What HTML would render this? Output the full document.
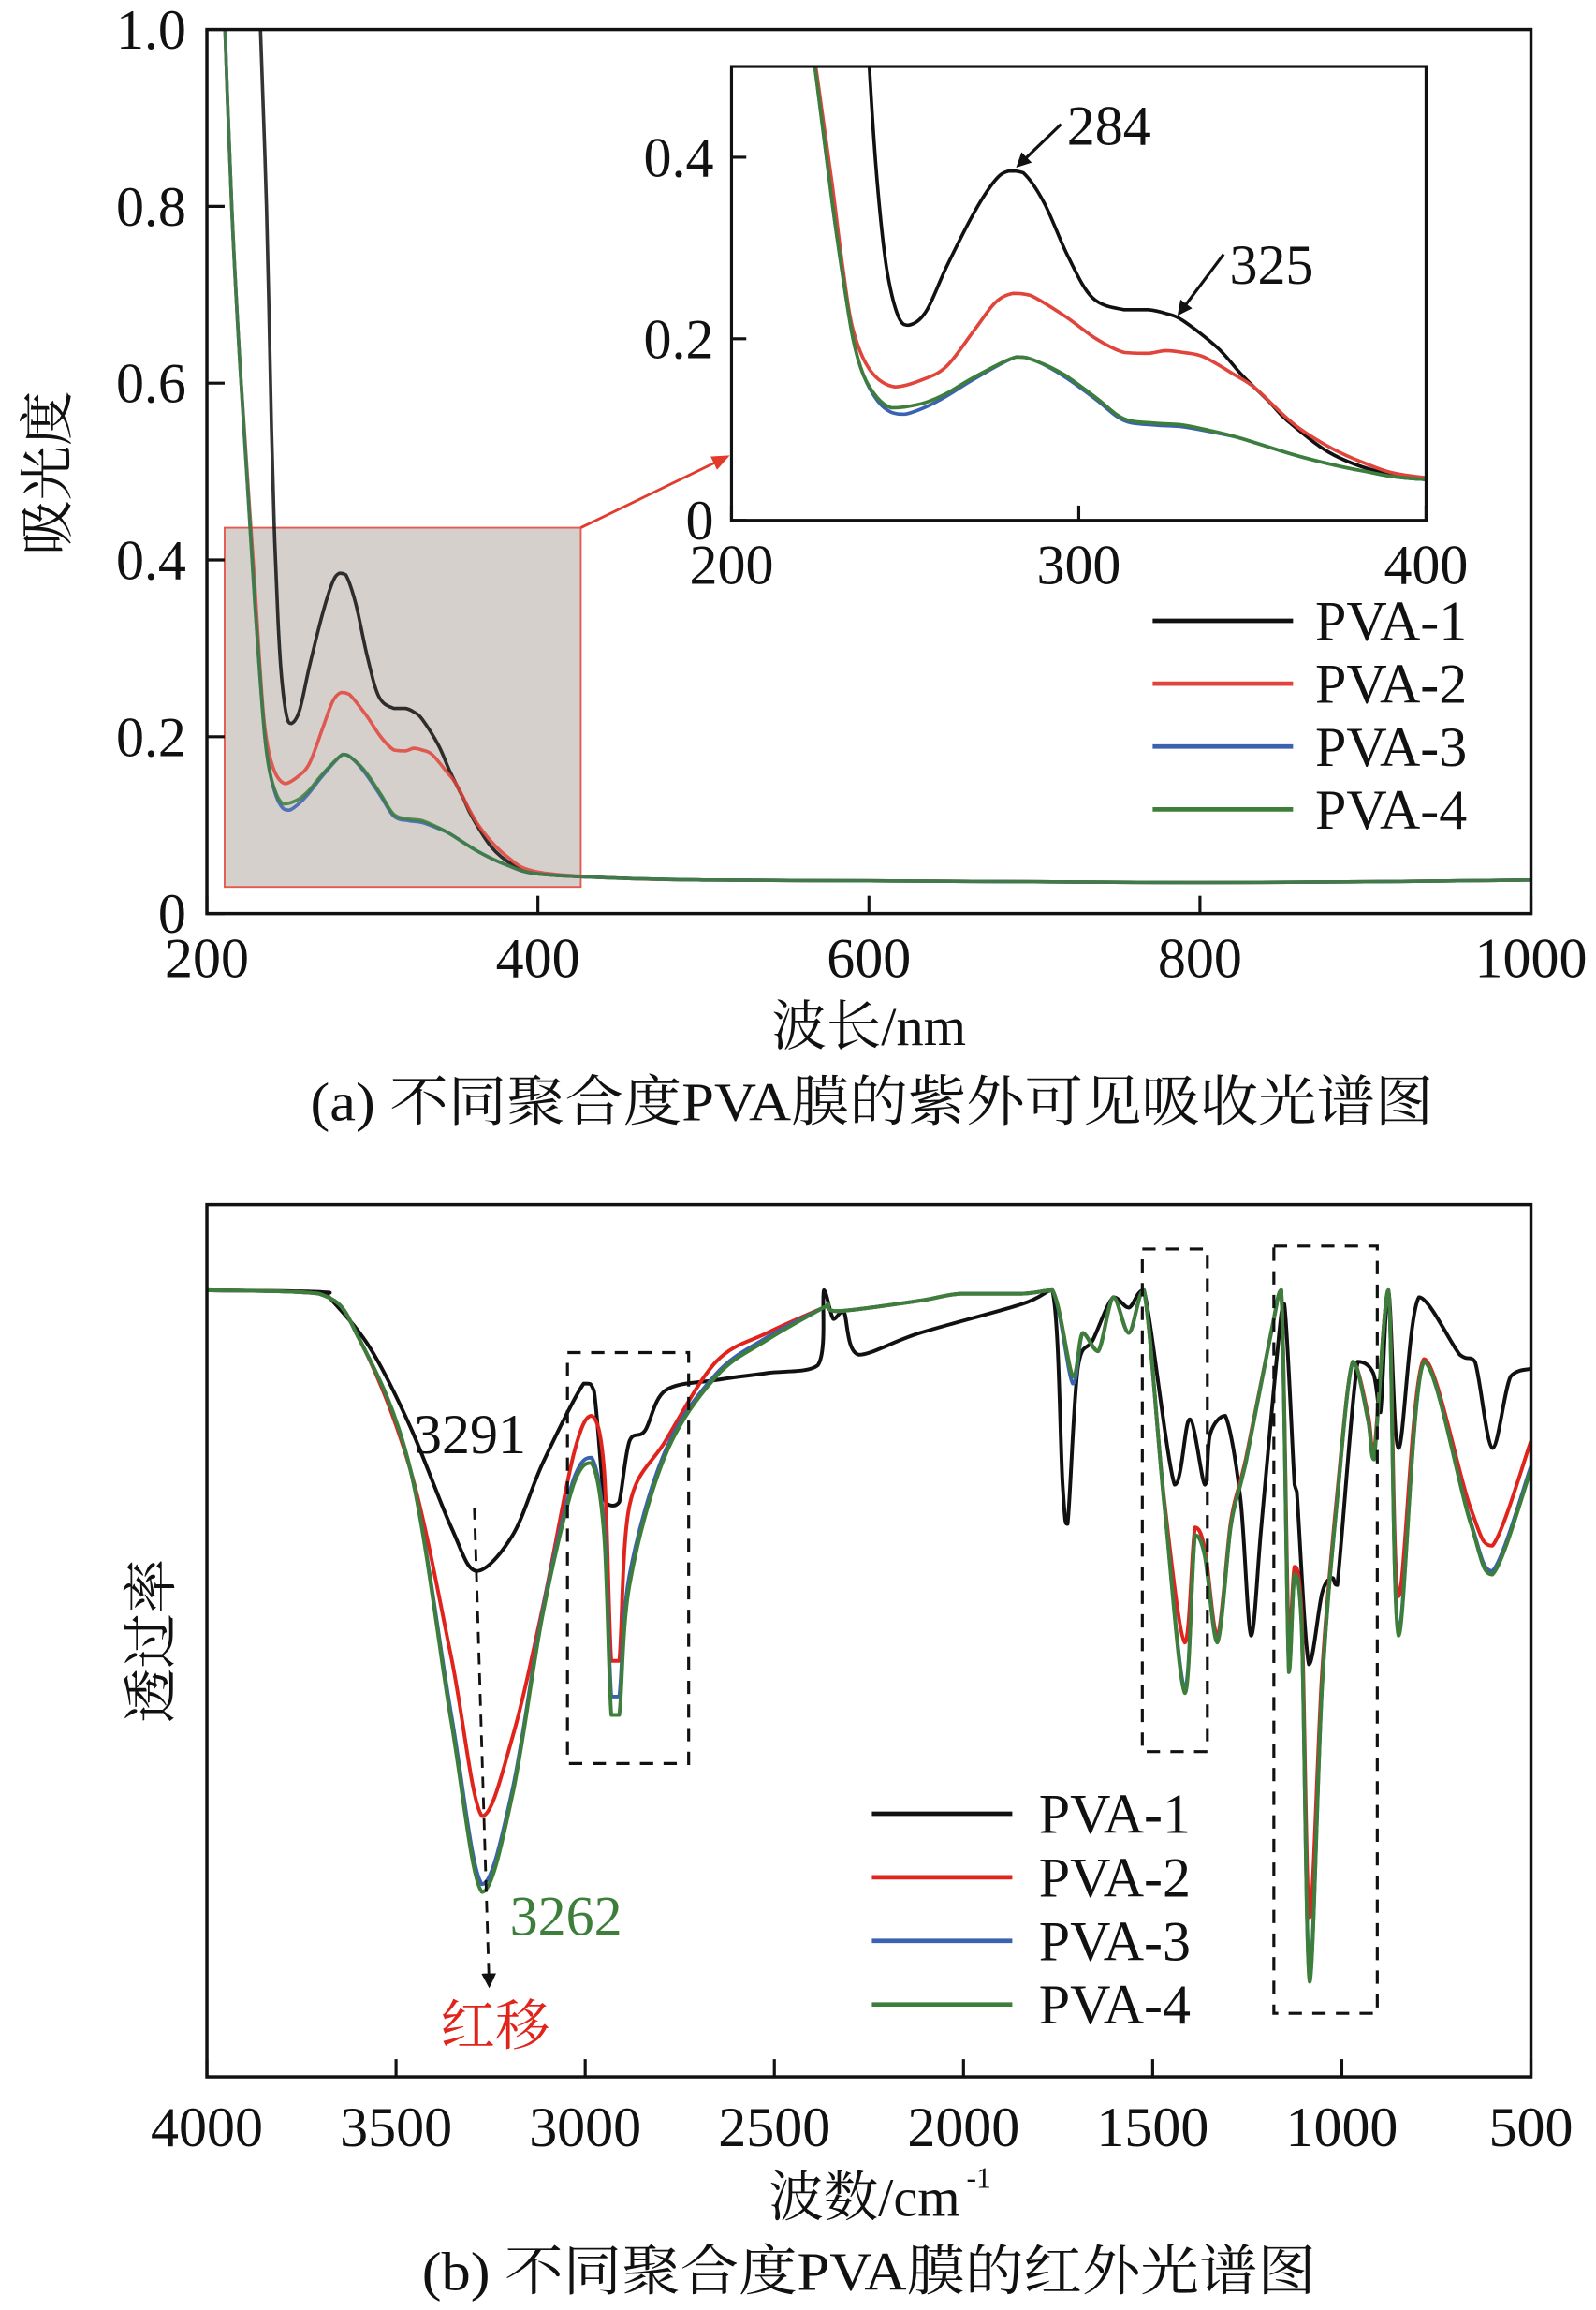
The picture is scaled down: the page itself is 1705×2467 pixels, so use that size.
<!DOCTYPE html>
<html><head><meta charset="utf-8"><style>
html,body{margin:0;padding:0;background:#fff}
svg{display:block}
text{font-family:"Liberation Serif","Noto Serif CJK SC",serif;fill:#111}
</style></head><body>
<svg id="fig" xmlns="http://www.w3.org/2000/svg" width="1705" height="2467" viewBox="0 0 1080 1562.7">
<defs>
<clipPath id="clipA"><rect x="140" y="20" width="896" height="598"/></clipPath>
<clipPath id="clipIn"><rect x="495" y="45" width="470" height="307"/></clipPath>
<clipPath id="clipB"><rect x="140" y="815" width="896" height="590"/></clipPath>
<marker id="arrB" markerWidth="10" markerHeight="10" refX="8" refY="5" orient="auto" markerUnits="userSpaceOnUse"><path d="M0,0 L10,5 L0,10 Z" fill="#111"/></marker>
<marker id="arrR" markerWidth="12" markerHeight="10" refX="10" refY="5" orient="auto" markerUnits="userSpaceOnUse"><path d="M0,0 L12,5 L0,10 Z" fill="#e23b2e"/></marker>
</defs>
<g id="gA"></g>
<g id="gB"></g>
</svg>
<script>
// ---------- UV-Vis data ----------
const uvSeriesNames = ["PVA-1","PVA-2","PVA-3","PVA-4"];
const uvColors = ["#111111","#e0443a","#3a62b0","#3d7f3a"];
const uvWl1 = [231,232,236,239,241,243,245,248,251,256,262,270,276,280,284,290,297,304,313,320,325,330,340,347,355,360,372,385,400,450,500,600,700,800,900,1000];
const uvAbs1 = [1.1,1.02,0.8,0.55,0.42,0.33,0.27,0.225,0.215,0.23,0.28,0.34,0.375,0.385,0.383,0.35,0.29,0.245,0.232,0.232,0.228,0.22,0.19,0.16,0.13,0.11,0.075,0.055,0.045,0.04,0.038,0.037,0.036,0.035,0.036,0.038];
const uvWl2 = [208,210,215,220,225,229,232,235,240,247,255,262,270,276,281,286,296,305,313,320,325,330,336,345,351,364,381,400,450,500,600,700,800,900,1000];
const uvAbs2 = [1.2,1.05,0.8,0.62,0.48,0.37,0.28,0.21,0.165,0.147,0.155,0.17,0.21,0.24,0.25,0.248,0.225,0.2,0.185,0.184,0.187,0.185,0.18,0.16,0.145,0.1,0.065,0.047,0.04,0.038,0.037,0.036,0.035,0.036,0.038];
const uvWl3 = [208,210,215,220,225,229,232,235,238,242,246,250,256,262,270,282,288,296,305,313,322,330,340,347,364,381,400,450,500,600,700,800,900,1000];
const uvAbs3 = [1.2,1.05,0.8,0.62,0.47,0.35,0.27,0.2,0.16,0.132,0.119,0.117,0.125,0.137,0.156,0.18,0.175,0.158,0.133,0.11,0.105,0.103,0.096,0.09,0.07,0.055,0.045,0.04,0.038,0.037,0.036,0.035,0.036,0.038];
const uvWl4 = [208,210,215,220,225,229,232,235,238,242,246,250,256,262,270,282,288,296,305,313,322,330,340,347,364,381,400,450,500,600,700,800,900,1000];
const uvAbs4 = [1.2,1.05,0.8,0.62,0.47,0.35,0.27,0.2,0.16,0.135,0.124,0.125,0.13,0.14,0.158,0.18,0.175,0.16,0.135,0.112,0.107,0.105,0.097,0.09,0.07,0.055,0.045,0.04,0.038,0.037,0.036,0.035,0.036,0.038];
const uvXTicks = [200,400,600,800,1000];
const uvYTicks = [0,0.2,0.4,0.6,0.8,1.0];
const uvYTickLabels = ["0","0.2","0.4","0.6","0.8","1.0"];
const insetXTicks = [200,300,400];
const insetYTicks = [0,0.2,0.4];
const insetYTickLabels = ["0","0.2","0.4"];

// ---------- FTIR data ----------
const irSeriesNames = ["PVA-1","PVA-2","PVA-3","PVA-4"];
const irColors = ["#111111","#e0241c","#3a62b0","#3d7f3a"];
const irWn1 = [4000,3700,3677,3569,3462,3354,3287,3192,3112,3004,2977,2950,2929,2910,2883,2842,2788,2654,2519,2385,2369,2344,2317,2277,2115,1846,1765,1738,1725,1698,1658,1604,1563,1523,1442,1402,1362,1348,1308,1268,1240,1213,1173,1152,1125,1119,1087,1052,1025,1012,958,917,898,877,850,796,688,648,602,554,500];
const irT1 = [90.2,90.0,89.4,83.6,74.5,63.0,58.0,62.1,70.4,79.5,78.7,66.3,65.5,65.9,72.9,74.1,78.7,79.9,80.7,81.6,90.2,86.9,87.8,82.8,85.3,88.6,90.2,67.9,63.4,81.2,84.5,89.4,88.2,90.2,67.9,75.4,67.9,73.7,75.8,66.3,50.6,63.0,82.0,88.6,67.9,67.1,47.3,55.5,57.2,56.4,82.0,80.7,76.2,90.2,72.1,89.4,82.8,82.0,72.1,80.3,81.2];
const irWnG = [4000,3704,3596,3462,3354,3273,3192,3112,3031,2983,2950,2931,2910,2883,2788,2654,2519,2371,2358,2331,2115,2008,1846,1765,1711,1685,1644,1604,1563,1523,1469,1415,1388,1362,1329,1294,1268,1254,1187,1160,1140,1125,1106,1085,1052,1012,971,931,915,877,850,783,662,602,500];
const irT2 = [90.2,89.8,84.5,69.6,48.1,29.9,39.0,53.9,71.3,75.8,69.6,47.7,47.7,65.5,72.9,82.0,85.3,88.2,88.6,87.8,89.0,89.8,89.8,90.2,80.3,85.3,83.2,89.4,85.3,90.2,66.0,49.8,63.0,60.5,50.6,63.5,68.3,70.8,85.3,90.2,49.8,58.5,53.0,18.3,46.5,67.0,82.0,76.0,71.5,90.2,55.1,82.3,65.5,60.9,72.9];
const irT3 = [90.2,89.8,84.5,69.6,41.5,22.1,33.0,53.5,68.5,71.0,63.0,43.6,43.6,57.5,71.8,80.6,84.8,88.2,88.6,87.8,89.0,89.8,89.8,90.2,79.5,85.3,83.2,89.4,85.3,90.2,65.5,44.5,62.1,59.7,50.0,63.0,67.9,70.4,85.3,90.2,46.8,57.6,51.6,11.2,45.0,66.3,82.0,75.4,70.8,90.2,51.0,82.0,64.0,58.0,70.0];
const irT4 = [90.2,89.8,84.5,69.6,40.7,21.2,32.4,53.1,67.9,70.4,62.1,41.5,41.5,56.4,71.3,80.3,84.5,88.2,88.6,87.8,89.0,89.8,89.8,90.2,80.3,85.3,83.2,89.4,85.3,90.2,65.5,44.0,62.1,59.7,49.8,63.0,67.9,70.4,85.3,90.2,46.4,57.6,51.4,10.9,44.8,66.3,82.0,75.4,70.8,90.2,50.6,82.0,63.8,57.6,69.6];
const irXTicks = [4000,3500,3000,2500,2000,1500,1000,500];

const NS = "http://www.w3.org/2000/svg";
function mk(tag, attrs, parent, txt){
  const e = document.createElementNS(NS, tag);
  for (const k in attrs) e.setAttribute(k, attrs[k]);
  if (txt !== undefined) e.textContent = txt;
  parent.appendChild(e);
  return e;
}
// smooth path through points (Catmull-Rom with clamped control y)
function smooth(pts){
  let d = 'M'+pts[0][0].toFixed(2)+','+pts[0][1].toFixed(2);
  for (let i=0;i<pts.length-1;i++){
    const p0=pts[Math.max(0,i-1)], p1=pts[i], p2=pts[i+1], p3=pts[Math.min(pts.length-1,i+2)];
    const lo=Math.min(p1[1],p2[1]), hi=Math.max(p1[1],p2[1]);
    const c1x=p1[0]+(p2[0]-p0[0])/6, c1y=Math.min(hi,Math.max(lo,p1[1]+(p2[1]-p0[1])/6));
    const c2x=p2[0]-(p3[0]-p1[0])/6, c2y=Math.min(hi,Math.max(lo,p2[1]-(p3[1]-p1[1])/6));
    d+=' C'+c1x.toFixed(2)+','+c1y.toFixed(2)+' '+c2x.toFixed(2)+','+c2y.toFixed(2)+' '+p2[0].toFixed(2)+','+p2[1].toFixed(2);
  }
  return d;
}

// ===== Chart A =====
const gA = document.getElementById('gA');
const ax = v => 140 + (v-200)/800*896;
const ay = v => 618 - v/1.0*598;
const ix = v => 495 + (v-200)/200*470;
const iy = v => 352 - v/0.5*307;

let zr = mk('rect',{x:152,y:357,width:241,height:243,fill:'#d6d0cc',stroke:'#e35a50','stroke-width':1.2},gA);


let zarrow = mk('line',{x1:393,y1:357,x2:492,y2:309,stroke:'#e23b2e','stroke-width':1.8,'marker-end':'url(#arrR)'},gA);



const uvWls=[uvWl1,uvWl2,uvWl3,uvWl4], uvAbss=[uvAbs1,uvAbs2,uvAbs3,uvAbs4];
const mainLines = mk('g',{'clip-path':'url(#clipA)'},gA);
for (let s=0;s<4;s++){
  const d = smooth(uvWls[s].map((w,i)=>[ax(w),ay(uvAbss[s][i])]));
  const p = mk('path',{d:d,fill:'none',stroke:uvColors[s],'stroke-width':2.3,'stroke-linejoin':'round','stroke-opacity':0.85},mainLines);
  
  
}
let frA = mk('rect',{x:140,y:20,width:896,height:598,fill:'none',stroke:'#111','stroke-width':2.2},gA);


uvXTicks.forEach(t=>{
  mk('line',{x1:ax(t),y1:618,x2:ax(t),y2:606,stroke:'#111','stroke-width':2},gA);
  const tl = mk('text',{x:ax(t),y:661,'font-size':38,'text-anchor':'middle'},gA,String(t));
  
  
});
uvYTicks.forEach((t,i)=>{
  mk('line',{x1:140,y1:ay(t),x2:152,y2:ay(t),stroke:'#111','stroke-width':2},gA);
  const tl = mk('text',{x:126,y:ay(t)+13,'font-size':38,'text-anchor':'end'},gA,uvYTickLabels[i]);
  
  
});
let xtA = mk('text',{x:588,y:707,'font-size':37,'text-anchor':'middle'},gA,'波长/nm');


let ytA = mk('text',{x:0,y:0,'font-size':37,'text-anchor':'middle',transform:'translate(45,320) rotate(-90)'},gA,'吸光度');


let capA = mk('text',{x:590,y:758,'font-size':37,'text-anchor':'middle',textLength:760,lengthAdjust:'spacingAndGlyphs'},gA,'(a) 不同聚合度PVA膜的紫外可见吸收光谱图');



// inset
let inBg = mk('rect',{x:495,y:45,width:470,height:307,fill:'#fff'},gA);


const inLines = mk('g',{'clip-path':'url(#clipIn)'},gA);
for (let s=0;s<4;s++){
  const d = smooth(uvWls[s].map((w,i)=>[ix(w),iy(uvAbss[s][i])]));
  const p = mk('path',{d:d,fill:'none',stroke:uvColors[s],'stroke-width':2.3,'stroke-linejoin':'round'},inLines);
  
  
}
let inFr = mk('rect',{x:495,y:45,width:470,height:307,fill:'none',stroke:'#111','stroke-width':2},gA);


insetXTicks.forEach(t=>{
  mk('line',{x1:ix(t),y1:352,x2:ix(t),y2:342,stroke:'#111','stroke-width':2},gA);
  const tl = mk('text',{x:ix(t),y:395,'font-size':38,'text-anchor':'middle'},gA,String(t));
  
  
});
insetYTicks.forEach((t,i)=>{
  mk('line',{x1:495,y1:iy(t),x2:505,y2:iy(t),stroke:'#111','stroke-width':2},gA);
  const tl = mk('text',{x:483,y:iy(t)+13,'font-size':38,'text-anchor':'end'},gA,insetYTickLabels[i]);
  
  
});
let a284 = mk('line',{x1:718,y1:84,x2:689,y2:112,stroke:'#111','stroke-width':2,'marker-end':'url(#arrB)'},gA);


let l284 = mk('text',{x:722,y:98,'font-size':38},gA,'284');


let a325 = mk('line',{x1:828,y1:172,x2:798,y2:212,stroke:'#111','stroke-width':2,'marker-end':'url(#arrB)'},gA);


let l325 = mk('text',{x:832,y:192,'font-size':38},gA,'325');



uvSeriesNames.forEach((n,i)=>{
  const y = 420 + i*42.5;
  const lg = mk('g',{},gA);
  
  
  mk('line',{x1:780,y1:y,x2:875,y2:y,stroke:uvColors[i],'stroke-width':3},lg);
  mk('text',{x:890,y:y+13,'font-size':38},lg,n);
});

// ===== Chart B =====
const gB = document.getElementById('gB');
const bx = v => 140 + (4000-v)/3500*896;
const by = v => 1405 - v/100*590;
const irTs=[irT1,irT2,irT3,irT4], irWns=[irWn1,irWnG,irWnG,irWnG];
const bLines = mk('g',{'clip-path':'url(#clipB)'},gB);
[0,1,2,3].forEach(s=>{
  const d = smooth(irWns[s].map((w,i)=>[bx(w),by(irTs[s][i])]));
  const p = mk('path',{d:d,fill:'none',stroke:irColors[s],'stroke-width':2.5,'stroke-linejoin':'round'},bLines);
  
  
});
let frB = mk('rect',{x:140,y:815,width:896,height:590,fill:'none',stroke:'#111','stroke-width':2.2},gB);


irXTicks.forEach(t=>{
  mk('line',{x1:bx(t),y1:1405,x2:bx(t),y2:1393,stroke:'#111','stroke-width':2},gB);
  const tl = mk('text',{x:bx(t),y:1452,'font-size':38,'text-anchor':'middle'},gB,String(t));
  
  
});
[[384,915,82,278],[773,845,44,340],[862,843,70,519]].forEach((r,i)=>{
  const b = mk('rect',{x:r[0],y:r[1],width:r[2],height:r[3],fill:'none',stroke:'#111','stroke-width':2,'stroke-dasharray':'9,7'},gB);
  
  
});
let l3291 = mk('text',{x:280,y:983,'font-size':38},gB,'3291');


let shift = mk('line',{x1:321,y1:1020,x2:331,y2:1343,stroke:'#111','stroke-width':1.8,'stroke-dasharray':'8,6','marker-end':'url(#arrB)'},gB);


let l3262 = mk('text',{x:345,y:1309,'font-size':38,style:'fill:#3d7f3a'},gB,'3262');


let lshift = mk('text',{x:335,y:1383,'font-size':37,'text-anchor':'middle',style:'fill:#e0241c'},gB,'红移');


irSeriesNames.forEach((n,i)=>{
  const y = 1227 + i*43;
  const lg = mk('g',{},gB);
  
  
  mk('line',{x1:590,y1:y,x2:685,y2:y,stroke:irColors[i],'stroke-width':3},lg);
  mk('text',{x:703,y:y+13,'font-size':38},lg,n);
});
let xtB = mk('text',{x:585,y:1499,'font-size':37,'text-anchor':'middle'},gB,'波数/cm');


let sup = mk('text',{x:654,y:1480,'font-size':20},gB,'-1');


let ytB = mk('text',{x:0,y:0,'font-size':37,'text-anchor':'middle',transform:'translate(115,1110) rotate(-90)'},gB,'透过率');


let capB = mk('text',{x:588,y:1549,'font-size':37,'text-anchor':'middle',textLength:605,lengthAdjust:'spacingAndGlyphs'},gB,'(b) 不同聚合度PVA膜的红外光谱图');


</script>
</body></html>
